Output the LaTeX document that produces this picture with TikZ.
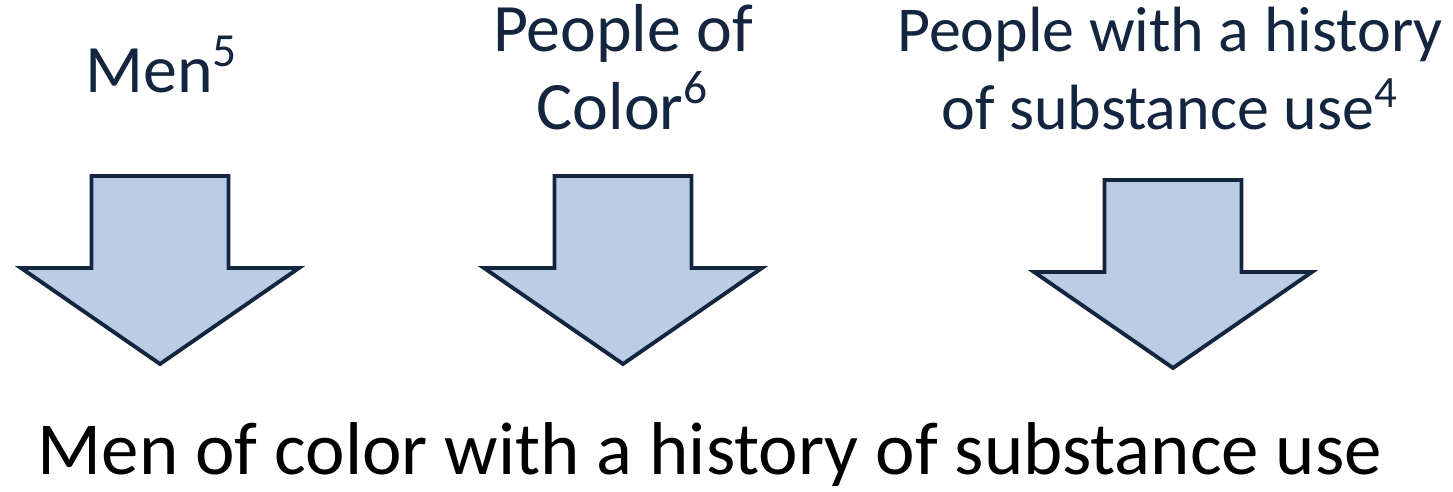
\documentclass[tikz,border=0pt]{standalone}
\usepackage{fontspec}
\setmainfont{Carlito}
\usepackage{tikz}
\usetikzlibrary{positioning,calc}
\definecolor{navyC}{HTML}{13253F}
\definecolor{arrowC}{HTML}{B9CDE4}

\tikzset{
  label text/.style={text=navyC,font=\fontsize{19.3}{22.2}\selectfont,align=center,inner sep=0pt},
  result text/.style={text=black,font=\fontsize{21.3}{24}\selectfont,inner sep=0pt},
  down arrow/.style={draw=navyC,fill=arrowC,line width=1.1pt,line join=miter}
}

\begin{document}
\begin{tikzpicture}
  \useasboundingbox (0,0) rectangle (14.53,4.92);

  % Group labels (base = last line)
  \node[label text,anchor=base] (men) at (1.62,3.99) {Men\textsuperscript{5}};
  \node[label text,anchor=base] (poc) at (6.23,3.62) {People of\\Color\textsuperscript{6}};
  \node[label text,anchor=base,font=\fontsize{18.2}{22.2}\selectfont] (sub) at (11.70,3.62)
    {People with a history\\of substance use\textsuperscript{4}};

  % Down arrows: centre / top of shaft
  \foreach \cx/\ty/\nm in {1.60/3.16/a, 6.23/3.16/b, 11.73/3.12/c}{
    \coordinate (\nm top) at (\cx,\ty);
    \draw[down arrow]
      ($(\nm top)+(-0.685,0)$) -- ($(\nm top)+(0.685,0)$)
      -- ($(\nm top)+(0.685,-0.92)$) -- ($(\nm top)+(1.39,-0.92)$)
      -- ($(\nm top)+(0,-1.88)$) -- ($(\nm top)+(-1.39,-0.92)$)
      -- ($(\nm top)+(-0.685,-0.92)$) -- cycle;
  }

  % Result
  \node[result text,anchor=base] (result) at (7.10,0.17) {Men of color with a history of substance use};
\end{tikzpicture}
\end{document}
